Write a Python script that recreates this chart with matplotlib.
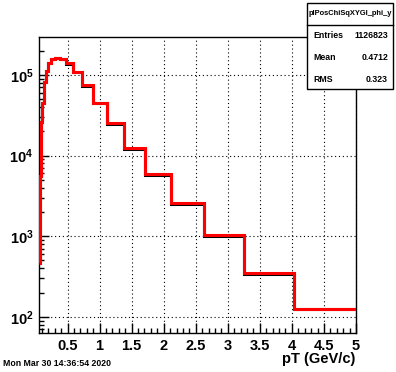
#!/usr/bin/env python3

import numpy as np
import matplotlib
matplotlib.use('Agg')
import matplotlib.pyplot as plt
from matplotlib.patches import Rectangle
from matplotlib.ticker import MultipleLocator, LogLocator, FixedLocator, FuncFormatter

plt.rcParams['font.family'] = ['Liberation Sans', 'DejaVu Sans']
plt.rcParams['mathtext.fontset'] = 'custom'
plt.rcParams['mathtext.rm'] = 'Liberation Sans:bold'
plt.rcParams['mathtext.bf'] = 'Liberation Sans:bold'
plt.rcParams['mathtext.default'] = 'bf'

# bin edges in pT (GeV/c)
edges = [0.055, 0.068, 0.084, 0.104, 0.129, 0.160, 0.198, 0.246, 0.305, 0.378,
         0.469, 0.582, 0.721, 0.894, 1.109, 1.375, 1.706, 2.115, 2.622, 3.252,
         4.032, 5.0]

# red histogram (drawn on top)
red_counts = [460, 5500, 26000, 45000, 82000, 113000, 140000, 158000, 160000,
              157000, 140000, 110000, 75000, 45000, 25000, 12300, 5880, 2565,
              1040, 354, 125]

# black histogram (mostly hidden under the red one)
black_counts = [460, 5500, 26000, 45000, 82000, 113000, 140000, 158000, 160000,
                156000, 137000, 108000, 73500, 44200, 24500, 12050, 5760, 2520,
                1010, 343, 124]

x_ticks = [0.5, 1, 1.5, 2, 2.5, 3, 3.5, 4, 4.5, 5]
y_ticks = [1e2, 1e3, 1e4, 1e5]

hist_name = 'plPosChiSqXYGl_phi_y'
stats = [('Entries', '1126823'), ('Mean', '0.4712'), ('RMS', '0.323')]
date_text = 'Mon Mar 30 14:36:54 2020'


def main():
    fig = plt.figure(figsize=(3.96, 3.72), dpi=100)
    fig.patch.set_facecolor('white')
    ax = fig.add_axes([39 / 396, 1 - 333 / 372, (356 - 39) / 396, (333 - 37) / 372])

    ax.stairs(black_counts, edges, baseline=None, color='black', lw=2.2, zorder=3)
    ax.stairs(red_counts, edges, baseline=None, color='#ff0000', lw=2.2, zorder=4)

    ax.set_yscale('log')
    ax.set_xlim(edges[0], edges[-1])
    ax.set_ylim(63, 2.95e5)

    ax.xaxis.set_major_locator(FixedLocator(x_ticks))
    ax.xaxis.set_minor_locator(MultipleLocator(0.1))
    ax.xaxis.set_major_formatter(FuncFormatter(lambda v, p: f'{v:g}'))
    ax.yaxis.set_major_locator(FixedLocator(y_ticks))
    ax.yaxis.set_minor_locator(LogLocator(base=10, subs=np.arange(2, 10)))
    ax.yaxis.set_minor_formatter(FuncFormatter(lambda v, p: ''))
    ax.yaxis.set_major_formatter(
        FuncFormatter(lambda v, p: r'$10^{%d}$' % int(round(np.log10(v)))))

    ax.tick_params(which='both', direction='in', top=False, right=False,
                   width=1, colors='black')
    ax.tick_params(which='major', length=7.5, labelsize=10.5, pad=4)
    ax.tick_params(which='minor', length=3.6)
    for lab in ax.get_xticklabels():
        lab.set_fontweight('bold')
    for sp in ax.spines.values():
        sp.set_linewidth(1.0)

    ax.grid(True, which='major', color='black', lw=0.8, linestyle=(0, (1, 2.5)))
    ax.set_axisbelow(False)

    fig.text(355 / 396, 1 - 359 / 372, 'pT (GeV/c)', ha='right', va='center',
             fontsize=10.5, fontweight='bold')
    fig.text(3 / 396, 1 - 364 / 372, date_text, ha='left', va='center',
             fontsize=6.3, fontweight='bold')

    # stats box
    x0, x1 = 307 / 396, 393 / 396
    y0, y1 = 1 - 89 / 372, 1 - 3 / 372
    fig.patches.append(Rectangle((x0, y0), x1 - x0, y1 - y0, transform=fig.transFigure,
                                 facecolor='white', edgecolor='black', lw=1, zorder=5))
    fig.lines.append(plt.Line2D([x0, x1], [1 - 25 / 372] * 2, transform=fig.transFigure,
                                color='black', lw=1, zorder=6))
    fig.text((x0 + x1) / 2, 1 - 13.5 / 372, hist_name, ha='center', va='center',
             fontsize=5.4, fontweight='bold', zorder=7)
    for i, (name, val) in enumerate(stats):
        yy = 1 - (35 + i * 22.5) / 372
        fig.text(313 / 396, yy, name, ha='left', va='center', fontsize=6.3,
                 fontweight='bold', zorder=7)
        fig.text(388 / 396, yy, val, ha='right', va='center', fontsize=6.3,
                 fontweight='bold', zorder=7)

    fig.savefig('out.png', dpi=100)


if __name__ == '__main__':
    main()
